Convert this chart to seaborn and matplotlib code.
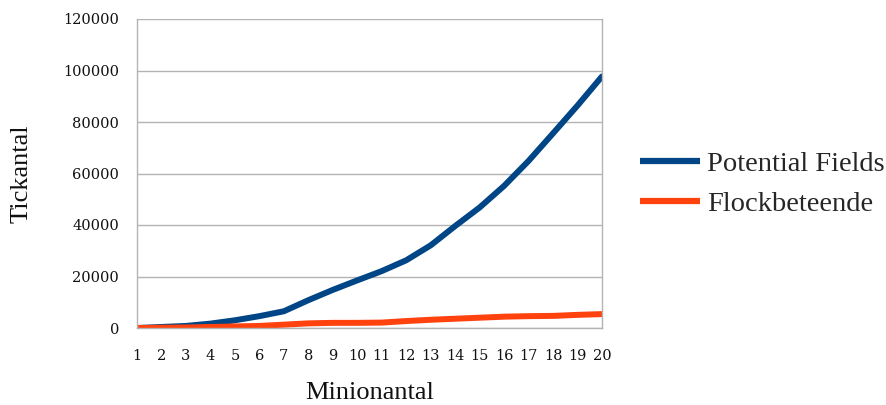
import matplotlib
matplotlib.use("Agg")
import matplotlib.pyplot as plt
import seaborn as sns
import pandas as pd

minions = list(range(1, 21))
potential_fields = [0, 400, 800, 1700, 3000, 4600, 6500, 10800, 14800, 18500,
                    22100, 26300, 32100, 39600, 46800, 55200, 64900, 75600, 86400, 97700]
flocking = [0, 100, 200, 400, 600, 800, 1300, 1800, 2000, 2000,
            2100, 2700, 3200, 3600, 4000, 4400, 4600, 4700, 5100, 5400]
series_names = ["Potential Fields", "Flockbeteende"]
series_colors = ["#004586", "#ff420e"]

df = pd.DataFrame({
    "Minionantal": minions * 2,
    "Tickantal": potential_fields + flocking,
    "serie": [series_names[0]] * len(minions) + [series_names[1]] * len(minions),
})

sns.set_theme(style="white")
plt.rcParams["font.family"] = ["Liberation Serif", "DejaVu Serif"]
num_font = dict(family="DejaVu Serif", size=10.5)

fig = plt.figure(figsize=(8.87, 4.05), dpi=100)
ax = fig.add_axes([137 / 887, 1 - 328 / 405, (602 - 137) / 887, (328 - 19) / 405])

sns.lineplot(data=df, x="Minionantal", y="Tickantal", hue="serie",
             palette=dict(zip(series_names, series_colors)),
             linewidth=4.3, ax=ax, legend=False)

ax.set_xlim(1, 20)
ax.set_ylim(0, 120000)
ax.set_xticks(minions)
ax.set_xticklabels([str(m) for m in minions], **num_font)
ax.set_yticks(range(0, 120001, 20000))
ax.set_yticklabels([str(v) for v in range(0, 120001, 20000)], **num_font)
ax.yaxis.grid(True, color="#b3b3b3", linewidth=1)
ax.set_axisbelow(True)
for s in ax.spines.values():
    s.set_color("#b3b3b3")
    s.set_linewidth(1)
ax.spines["top"].set_visible(False)
ax.tick_params(axis="both", which="both", length=7, width=1,
               direction="out", colors="#111111")
ax.tick_params(axis="x", pad=8)
ax.tick_params(axis="y", pad=6)
for t in ax.get_xticklines() + ax.get_yticklines():
    t.set_color("#b3b3b3")

ax.set_xlabel("Minionantal", fontsize=19, color="#111111", labelpad=14)
ax.set_ylabel("Tickantal", fontsize=19, color="#111111", labelpad=22)

# legend on the right
handles = [plt.Line2D([], [], color=c, linewidth=4.5, solid_capstyle="butt")
           for c in series_colors]
fig.legend(handles, series_names, loc="center left",
           bbox_to_anchor=(640 / 887, 1 - 184 / 405), frameon=False,
           fontsize=20.5, handlelength=2.1, handletextpad=0.25, labelspacing=0.48,
           borderaxespad=0, borderpad=0)

fig.savefig("out.png", dpi=100)
